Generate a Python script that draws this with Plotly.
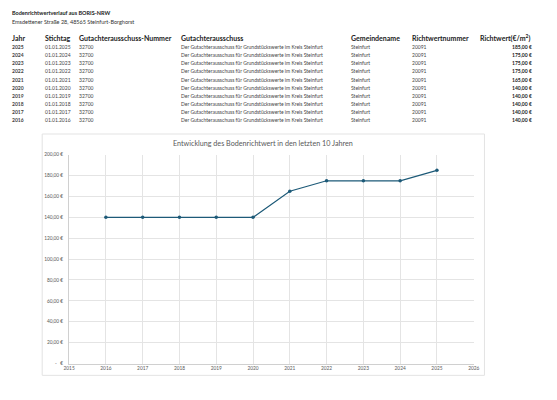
import plotly.graph_objs as go

# Tabellendaten (Bodenrichtwertverlauf)
jahre = [2025, 2024, 2023, 2022, 2021, 2020, 2019, 2018, 2017, 2016]
stichtage = ["01.01.%d" % j for j in jahre]
ga_nummer = ["32700"] * 10
ga_name = ["Der Gutachterausschuss für Grundstückswerte im Kreis Steinfurt"] * 10
gemeinde = ["Steinfurt"] * 10
rw_nummer = ["20091"] * 10
richtwert = [185, 175, 175, 175, 165, 140, 140, 140, 140, 140]

kopf = ["Jahr", "Stichtag", "Gutachterausschuss-Nummer", "Gutachterausschuss",
        "Gemeindename", "Richtwertnummer", "Richtwert(€/m<sup>2</sup>)"]

y_ticks = [0, 20, 40, 60, 80, 100, 120, 140, 160, 180, 200]
y_ticktext = ["-   €"] + ["%d,00 €" % v for v in y_ticks[1:]]

W, H = 557, 400
FONT = "Lato"


def px_x(x):
    return x / W


def px_y(y):
    return 1 - y / H


def euro(v):
    return "%d,00 €" % v


fig = go.Figure()

# Diagramm: aufsteigend nach Jahr
x_chart = sorted(jahre)
y_chart = [richtwert[jahre.index(j)] for j in x_chart]
fig.add_trace(go.Scatter(
    x=x_chart, y=y_chart, mode="lines+markers",
    line=dict(color="#1d5a78", width=1.2),
    marker=dict(color="#1d5a78", size=3.5),
    showlegend=False, hoverinfo="x+y"
))

ann = []
# Überschrift
ann.append(dict(text="<b>Bodenrichtwertverlauf aus BORIS-NRW</b>", x=px_x(4), y=px_y(10),
                font=dict(size=5.5, color="#222")))
ann.append(dict(text="Emsdettener Straße 28, 48565 Steinfurt-Borghorst", x=px_x(4), y=px_y(19),
                font=dict(size=5.5, color="#333")))

# Tabellenkopf
spalten_x = [4, 38, 73, 177, 351, 413, 482]
for t, xx in zip(kopf, spalten_x):
    ann.append(dict(text="<b>%s</b>" % t, x=px_x(xx), y=px_y(35.5),
                    font=dict(size=7, color="#222")))

# Tabellenzeilen
for i in range(len(jahre)):
    yy = px_y(44.5 + i * 8.3)
    werte = [("<b>%d</b>" % jahre[i], 4), (stichtage[i], 38), (ga_nummer[i], 73),
             (ga_name[i], 177), (gemeinde[i], 351), (rw_nummer[i], 413)]
    for t, xx in werte:
        ann.append(dict(text=t, x=px_x(xx), y=yy, font=dict(size=5, color="#444")))
    ann.append(dict(text="<b>%s</b>" % euro(richtwert[i]), x=px_x(540), y=yy,
                    xanchor="right", font=dict(size=5, color="#222")))

for a in ann:
    a.setdefault("xanchor", "left")
    a.update(xref="paper", yref="paper", yanchor="middle", showarrow=False)

# Diagrammtitel
ann.append(dict(text="Entwicklung des Bodenrichtwert in den letzten 10 Jahren",
                x=px_x(263), y=px_y(142.5), xref="paper", yref="paper",
                xanchor="center", yanchor="middle", showarrow=False,
                font=dict(size=7.2, color="#595959")))

fig.update_layout(
    width=W, height=H,
    margin=dict(l=0, r=0, t=0, b=0),
    paper_bgcolor="white", plot_bgcolor="white",
    font=dict(family=FONT),
    annotations=ann,
    shapes=[dict(type="rect", xref="paper", yref="paper",
                 x0=px_x(37), x1=px_x(489), y0=px_y(378), y1=px_y(133),
                 line=dict(color="#e3e3e3", width=1), fillcolor="rgba(0,0,0,0)", layer="below")],
    xaxis=dict(domain=[px_x(64.5), px_x(478)], range=[2015, 2026], dtick=1, tick0=2015,
               showgrid=True, gridcolor="#e4e4e4", gridwidth=1,
               showline=True, linecolor="#d0d0d0", zeroline=False,
               ticks="", tickfont=dict(size=4.8, color="#595959", family=FONT)),
    yaxis=dict(domain=[px_y(366), px_y(154)], range=[0, 200],
               tickvals=y_ticks, ticktext=y_ticktext,
               showgrid=True, gridcolor="#e4e4e4", gridwidth=1,
               showline=True, linecolor="#d0d0d0", zeroline=False,
               ticks="", ticklabelstandoff=4,
               tickfont=dict(size=4.8, color="#595959", family=FONT)),
)

# Browser-Standardrand entfernen, damit die Figur bündig sitzt
fig.write_html("out.html", config={"displayModeBar": False},
               post_script="document.body.style.margin='0';")
